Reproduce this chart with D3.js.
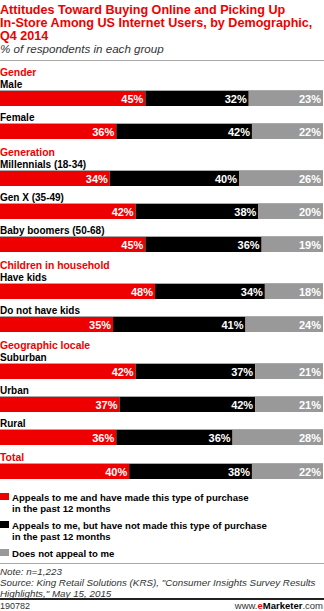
<!DOCTYPE html>
<html>
<head>
<meta charset="utf-8">
<script src="https://cdn.jsdelivr.net/npm/d3@7"></script>
<style>
  body { margin: 0; background: #fff; }
  svg { display: block; font-family: "Liberation Sans", Arial, sans-serif; }
</style>
</head>
<body>
<div id="chart"></div>
<script>
// values
const rowLabels = ["Male", "Female", "Millennials (18-34)", "Gen X (35-49)", "Baby boomers (50-68)",
  "Have kids", "Do not have kids", "Suburban", "Urban", "Rural", ""];
const rowGroups = ["Gender", "Gender", "Generation", "Generation", "Generation",
  "Children in household", "Children in household", "Geographic locale", "Geographic locale", "Geographic locale", "Total"];
const madePurchase = [45, 36, 34, 42, 45, 48, 35, 42, 37, 36, 40];
const notMade = [32, 42, 40, 38, 36, 34, 41, 37, 42, 36, 38];
const noAppeal = [23, 22, 26, 20, 19, 18, 24, 21, 21, 28, 22];
const seriesKeys = ["made", "notMade", "noAppeal"];
const seriesNames = [
  ["Appeals to me and have made this type of purchase", "in the past 12 months"],
  ["Appeals to me, but have not made this type of purchase", "in the past 12 months"],
  ["Does not appeal to me"]
];
const colors = ["#ee0000", "#000000", "#999999"];

const width = 324, height = 611;
const svg = d3.select("#chart").append("svg")
  .attr("width", width).attr("height", height);

// title block
const title = ["Attitudes Toward Buying Online and Picking Up",
  "In-Store Among US Internet Users, by Demographic,", "Q4 2014"];
svg.selectAll(".title").data(title).enter().append("text")
  .attr("x", 0).attr("y", (d, i) => 14 + i * 13)
  .attr("fill", "#ee0000").attr("font-weight", "bold").attr("font-size", 12.6)
  .text(d => d);
svg.append("text").attr("x", 0).attr("y", 53)
  .attr("font-style", "italic").attr("font-size", 11.6).attr("fill", "#333")
  .text("% of respondents in each group");
svg.append("line").attr("x1", 0).attr("x2", width).attr("y1", 60.5).attr("y2", 60.5)
  .attr("stroke", "#aaa").attr("stroke-width", 1);

// data table
const data = rowLabels.map((lab, i) => ({
  label: lab, group: rowGroups[i],
  made: madePurchase[i], notMade: notMade[i], noAppeal: noAppeal[i]
}));

// vertical positions: 33px per row, extra room where a new group header appears
let yPos = 91;
data.forEach((d, i) => {
  if (i > 0) {
    yPos += 33;
    if (d.group !== data[i - 1].group) yPos += 14;
    if (d.label === "") yPos -= 13;
  }
  d.y = yPos;
  d.header = (i === 0 || d.group !== data[i - 1].group);
});

const x = d3.scaleLinear().domain([0, 100]).range([0, 323]);
const barH = 15;
const stack = d3.stack().keys(seriesKeys)(data);

// group headers & row labels
svg.selectAll(".hdr").data(data.filter(d => d.header)).enter().append("text")
  .attr("x", 0).attr("y", d => d.label === "" ? d.y - 3 : d.y - 15)
  .attr("fill", "#ee0000").attr("font-weight", "bold").attr("font-size", 10.4)
  .text(d => d.group);
svg.selectAll(".lbl").data(data.filter(d => d.label !== "")).enter().append("text")
  .attr("x", 0).attr("y", d => d.y - 3)
  .attr("fill", "#000").attr("font-weight", "bold").attr("font-size", 10)
  .text(d => d.label);

// stacked bars
const layers = svg.selectAll(".layer").data(stack).enter().append("g")
  .attr("fill", (d, i) => colors[i]);
layers.selectAll("rect").data(d => d).enter().append("rect")
  .attr("x", d => x(d[0])).attr("y", d => d.data.y)
  .attr("width", d => x(d[1]) - x(d[0])).attr("height", barH);
layers.selectAll("text").data(d => d).enter().append("text")
  .attr("x", d => x(d[1]) - 2).attr("y", d => d.data.y + 11.5)
  .attr("text-anchor", "end").attr("fill", "#fff")
  .attr("font-weight", "bold").attr("font-size", 11)
  .text(d => (d[1] - d[0]) + "%");
// thin gray rule on top of each bar
svg.selectAll(".topline").data(data).enter().append("line")
  .attr("x1", x(0)).attr("x2", x(100))
  .attr("y1", d => d.y - 0.5).attr("y2", d => d.y - 0.5)
  .attr("stroke", "#aaa").attr("stroke-width", 1);

// legend
const legendTop = [493, 521, 549];
const lg = svg.selectAll(".legend").data(seriesNames).enter().append("g")
  .attr("transform", (d, i) => `translate(0,${legendTop[i]})`);
lg.append("rect").attr("x", 0).attr("y", 0).attr("width", 9).attr("height", 7)
  .attr("fill", (d, i) => colors[i]);
lg.selectAll("text").data(d => d).enter().append("text")
  .attr("x", 12).attr("y", (d, j) => 7.5 + j * 11)
  .attr("font-weight", "bold").attr("font-size", 9.6).attr("fill", "#000")
  .text(d => d);

// footer
svg.append("line").attr("x1", 0).attr("x2", width).attr("y1", 563.5).attr("y2", 563.5)
  .attr("stroke", "#aaa");
const notes = ["Note: n=1,223",
  "Source: King Retail Solutions (KRS), \"Consumer Insights Survey Results",
  "Highlights,\" May 15, 2015"];
svg.selectAll(".note").data(notes).enter().append("text")
  .attr("x", 0).attr("y", (d, i) => 575 + i * 11)
  .attr("font-style", "italic").attr("font-size", 9.8).attr("fill", "#333")
  .text(d => d);
svg.append("rect").attr("x", 0).attr("y", 598).attr("width", width).attr("height", 2)
  .attr("fill", "#222");
svg.append("text").attr("x", 0).attr("y", 609).attr("font-size", 9).attr("fill", "#333")
  .text("190782");
const brand = svg.append("text").attr("x", 323).attr("y", 609).attr("text-anchor", "end")
  .attr("font-size", 9.5).attr("fill", "#333");
brand.append("tspan").text("www.");
brand.append("tspan").attr("fill", "#ee0000").attr("font-weight", "bold").text("e");
brand.append("tspan").attr("fill", "#000").attr("font-weight", "bold").text("Marketer");
brand.append("tspan").text(".com");
</script>
</body>
</html>
